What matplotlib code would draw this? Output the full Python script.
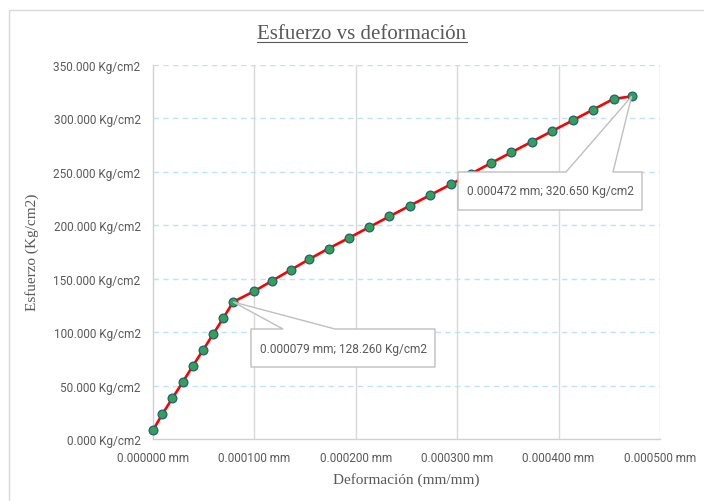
import matplotlib
matplotlib.use("Agg")
import matplotlib.pyplot as plt
from matplotlib.patches import Polygon, Rectangle
from matplotlib.lines import Line2D

# Strain (mm/mm) and stress (Kg/cm2) readings
deformacion = [0.0000000, 0.0000092, 0.0000192, 0.0000293, 0.0000392, 0.0000494,
               0.0000594, 0.0000694, 0.0000790, 0.0000997, 0.0001178, 0.0001359,
               0.0001540, 0.0001731, 0.0001934, 0.0002132, 0.0002330, 0.0002532,
               0.0002733, 0.0002936, 0.0003137, 0.0003334, 0.0003535, 0.0003736,
               0.0003938, 0.0004142, 0.0004340, 0.0004542, 0.0004720]
esfuerzo = [8.26, 23.26, 38.26, 53.26, 68.26, 83.26, 98.26, 113.26, 128.26,
            138.26, 148.26, 158.26, 168.26, 178.26, 188.26, 198.26, 208.26,
            218.26, 228.26, 238.26, 248.26, 258.26, 268.26, 278.26, 288.26,
            298.26, 308.26, 318.26, 320.65]
x_ticks = [0.0, 0.0001, 0.0002, 0.0003, 0.0004, 0.0005]
y_ticks = [0, 50, 100, 150, 200, 250, 300, 350]
labelled_points = [8, 28]

W, H = 704, 502
fig = plt.figure(figsize=(W / 100, H / 100), dpi=100)
fig.patch.set_facecolor("white")

def fx(px):
    return px / W

def fy(py):
    return 1 - py / H

# chart frame (runs off the right and bottom edges)
fig.add_artist(Rectangle((fx(9), fy(560)), fx(760), (560 - 11) / H,
                         transform=fig.transFigure, fill=False, edgecolor="#d9d9d9", lw=1.0))

ax = fig.add_axes([fx(153), fy(440), fx(660 - 153), (440 - 66) / H])
ax.set_xlim(0, 0.0005)
ax.set_ylim(0, 350)

tick_font = "Roboto"
grey = "#595959"

ax.set_xticks(x_ticks)
ax.set_xticklabels([f"{v:.6f} mm" for v in x_ticks], fontsize=8.5, color=grey, family=tick_font)
ax.set_yticks(y_ticks)
ax.set_yticklabels([f"{v:.3f} Kg/cm2" for v in y_ticks], fontsize=8.5, color=grey, family=tick_font)
ax.tick_params(length=0, pad=9)

for s in ["top", "right"]:
    ax.spines[s].set_visible(False)
for s in ["left", "bottom"]:
    ax.spines[s].set_color("#d0d0d0")
    ax.spines[s].set_linewidth(1.0)

for v in y_ticks[1:]:
    ax.axhline(v, color="#bfe3f5", lw=1.0, ls=(0, (4, 3)), zorder=0)
for v in x_ticks[1:]:
    ax.axvline(v, color="#d9d9d9", lw=1.0, zorder=0)

ax.plot(deformacion, esfuerzo, color="#ff0000", lw=1.9, marker="o", markersize=6.3,
        markerfacecolor="#33a056", markeredgecolor="#205f7a", markeredgewidth=0.9,
        zorder=3, clip_on=False)

fig.text(fx(362), fy(35), "Esfuerzo vs deformación", ha="center", va="center",
         fontsize=15, color=grey, family="Liberation Serif")
fig.text(fx(406), fy(480), "Deformación (mm/mm)", ha="center", va="center",
         fontsize=11, color=grey, family="Liberation Serif")
fig.text(fx(32), fy(252), "Esfuerzo (Kg/cm2)", ha="center", va="center", rotation=90,
         fontsize=11, color=grey, family="Liberation Serif")

# callout boxes: (left, top, right, bottom, wedge_a, wedge_b) in pixels
boxes = [(251, 330, 435, 368, 283, 335), (458, 173, 642, 211, 566, 613)]
fig.canvas.draw()
for idx, (l, t, r, b, wa, wb) in zip(labelled_points, boxes):
    px, py = ax.transData.transform((deformacion[idx], esfuerzo[idx]))
    pt = fig.transFigure.inverted().transform((px, py))
    poly = [(fx(l), fy(t)), (fx(wa), fy(t)), tuple(pt), (fx(wb), fy(t)),
            (fx(r), fy(t)), (fx(r), fy(b)), (fx(l), fy(b))]
    fig.add_artist(Polygon(poly, closed=True, transform=fig.transFigure,
                           facecolor="white", edgecolor="#bfbfbf", lw=1.0, zorder=5))
    fig.text(fx((l + r) / 2), fy((t + b) / 2),
             f"{deformacion[idx]:.6f} mm; {esfuerzo[idx]:.3f} Kg/cm2",
             ha="center", va="center", fontsize=8.6, color=grey, family=tick_font, zorder=6)

# underline the title
title = [t for t in fig.texts if t.get_text() == "Esfuerzo vs deformación"][0]
bb = title.get_window_extent(renderer=fig.canvas.get_renderer())
inv = fig.transFigure.inverted()
(x0, y0), (x1, _) = inv.transform([(bb.x0, bb.y0), (bb.x1, bb.y0)])
fig.add_artist(Line2D([x0, x1], [y0 + 1 / H, y0 + 1 / H], transform=fig.transFigure,
                      color=grey, lw=0.8))

fig.savefig("out.png", dpi=100)
